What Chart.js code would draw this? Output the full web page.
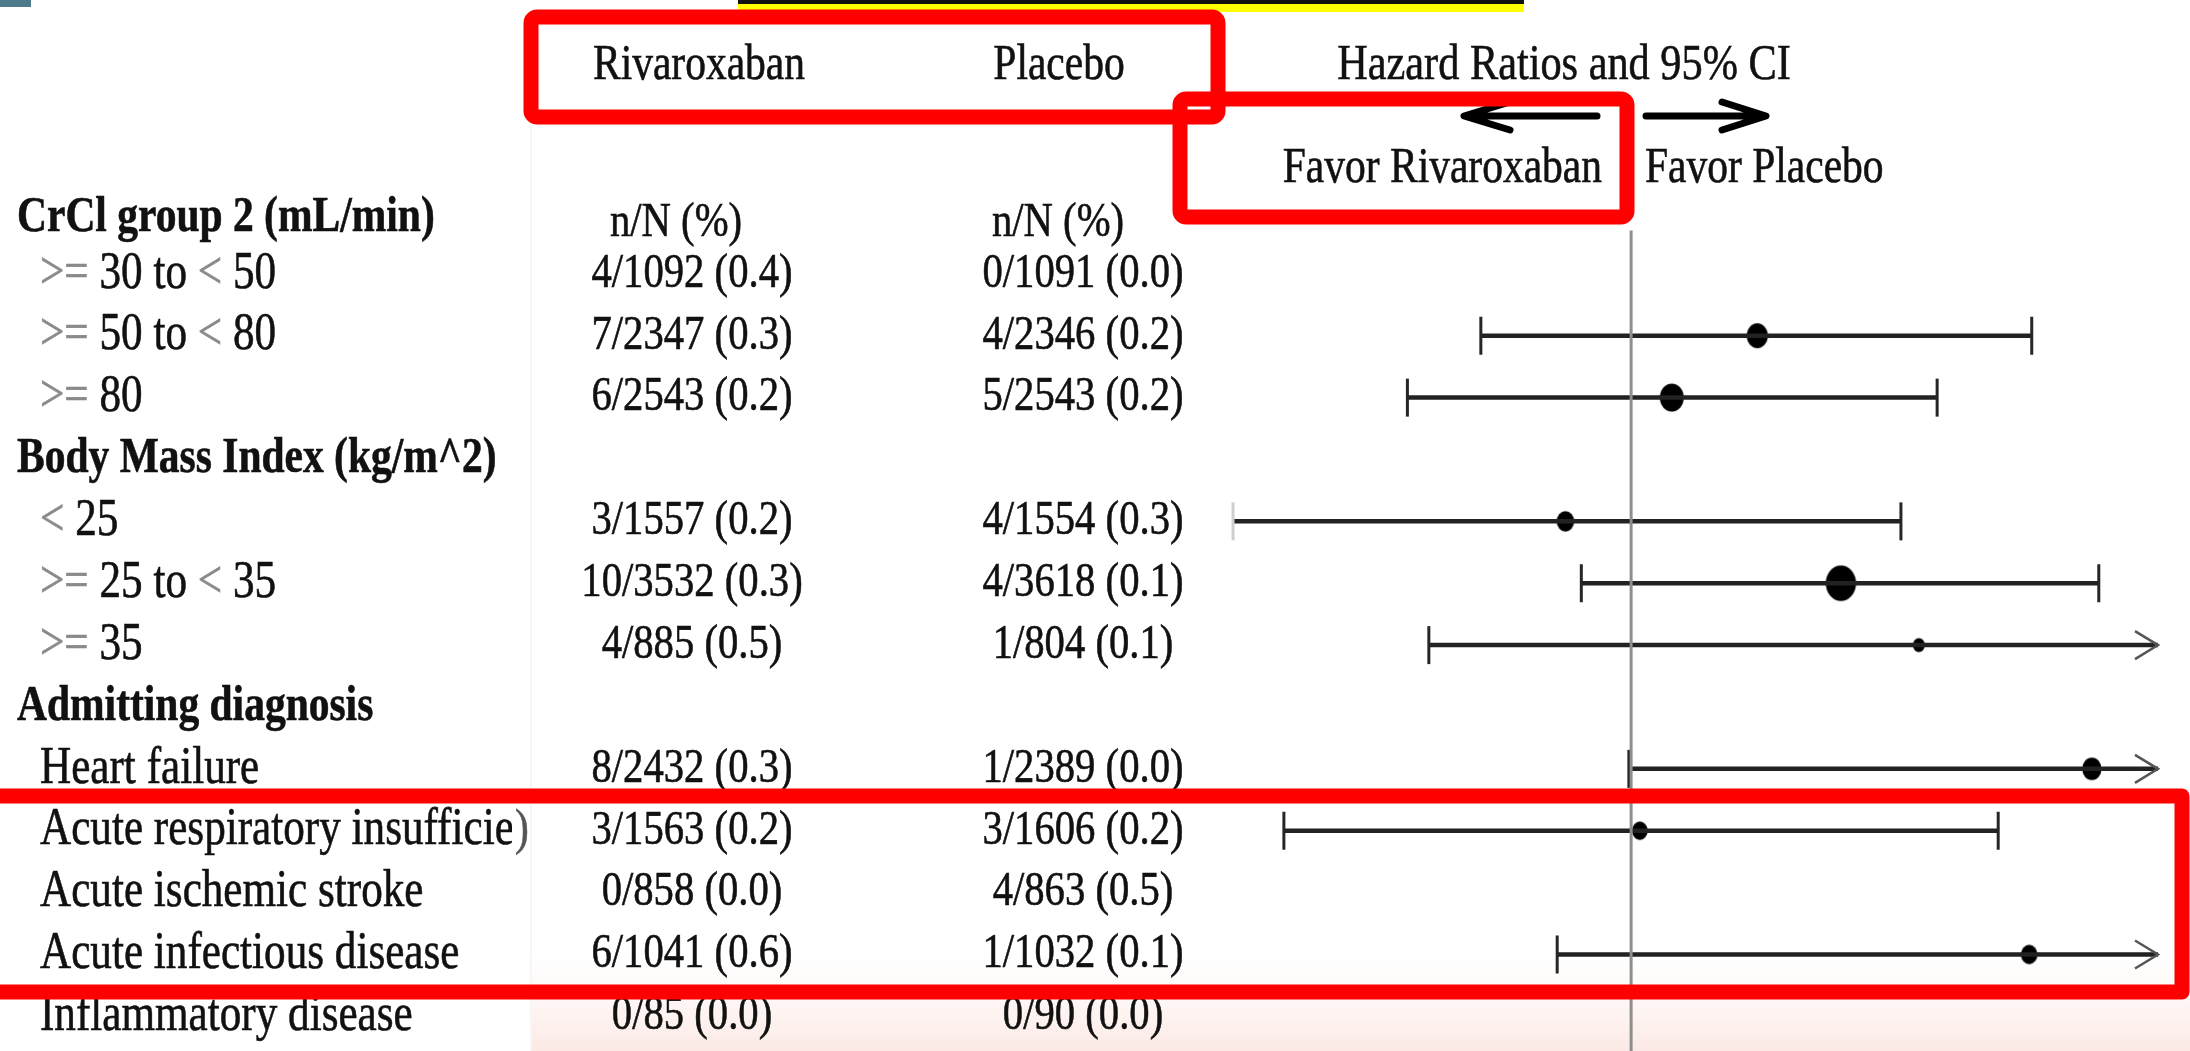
<!DOCTYPE html>
<html>
<head>
<meta charset="utf-8">
<title>Subgroup forest plot</title>
<script src="https://cdn.jsdelivr.net/npm/chart.js@4.4.1/dist/chart.umd.min.js"></script>
<style>
  html, body { margin: 0; padding: 0; background: #fff; }
  #wrap { width: 2190px; height: 1051px; }
</style>
</head>
<body>
<div id="wrap"><canvas id="forest" width="2190" height="1051"></canvas></div>
<script>
// ---- data ----
const rowLabels = [
  "CrCl group 2 (mL/min)", ">= 30 to < 50", ">= 50 to < 80", ">= 80",
  "Body Mass Index (kg/m^2)", "< 25", ">= 25 to < 35", ">= 35",
  "Admitting diagnosis", "Heart failure", "Acute respiratory insufficiency",
  "Acute ischemic stroke", "Acute infectious disease", "Inflammatory disease"
];
const groupRows = [0, 4, 8];
const rivaroxabanCounts = [
  "n/N (%)", "4/1092 (0.4)", "7/2347 (0.3)", "6/2543 (0.2)", "",
  "3/1557 (0.2)", "10/3532 (0.3)", "4/885 (0.5)", "",
  "8/2432 (0.3)", "3/1563 (0.2)", "0/858 (0.0)", "6/1041 (0.6)", "0/85 (0.0)"
];
const placeboCounts = [
  "n/N (%)", "0/1091 (0.0)", "4/2346 (0.2)", "5/2543 (0.2)", "",
  "4/1554 (0.3)", "4/3618 (0.1)", "1/804 (0.1)", "",
  "1/2389 (0.0)", "3/1606 (0.2)", "4/863 (0.5)", "1/1032 (0.1)", "0/90 (0.0)"
];
// hazard ratio, 95% CI (log scale); null = not estimable
const hazardRatio = [null, null, 1.76, 1.20, null, 0.745, 2.56, 3.63, null, 7.88, 1.04, null, 5.95, null];
const ciLower     = [null, null, 0.51, 0.367, null, 0.168, 0.80, 0.404, null, 0.99, 0.211, null, 0.718, null];
const ciUpper     = [null, null, 6.02, 3.94, null, 3.35, 8.13, 32.6, null, 62.7, 5.18, null, 49.3, null];
// marker size (weight) per row
const markerSize  = [0, 0, 11.5, 13, 0, 9.5, 16.5, 6.5, 0, 10.5, 8.5, 0, 9, 0];

const X_MIN = 0.165, X_MAX = 10.6;
const SQUEEZE = 0.83;
const SERIF = '"Liberation Serif", "Times New Roman", serif';

function makeDot(r) {
  const rx = r * 0.92, ry = r * 1.08;
  const c = document.createElement("canvas");
  c.width = Math.ceil(rx * 2 + 2);
  c.height = Math.ceil(ry * 2 + 2);
  const g = c.getContext("2d");
  g.fillStyle = "#000";
  g.beginPath();
  g.ellipse(c.width / 2, c.height / 2, rx, ry, 0, 0, Math.PI * 2);
  g.fill();
  return c;
}
const dots = markerSize.map((r) => (r > 0 ? makeDot(r) : "circle"));

const datasets = [];
// reference line at HR = 1
datasets.push({
  data: [{ x: 1, y: 0.3 }, { x: 1, y: 13.7 }],
  showLine: true, borderColor: "#8e8e8e", borderWidth: 3, pointRadius: 0, clip: false
});
// confidence intervals
hazardRatio.forEach((hr, i) => {
  if (hr == null) return;
  const hi = Math.min(ciUpper[i], X_MAX);
  const lowAtEdge = ciLower[i] <= X_MIN * 1.03;
  datasets.push({
    data: [{ x: ciLower[i], y: i }, { x: hi, y: i }],
    showLine: true, borderColor: "#222", borderWidth: 4.5,
    pointStyle: "line", pointRotation: 90,
    pointRadius: [19, ciUpper[i] > X_MAX ? 0 : 19],
    pointBorderWidth: 3,
    pointBorderColor: [lowAtEdge ? "#cfcfcf" : "#262626", "#262626"],
    clip: false
  });
});
// point estimates
datasets.push({
  data: hazardRatio.map((hr, i) => ({ x: hr, y: i })).filter((p) => p.x != null),
  pointStyle: (ctx) => dots[ctx.raw ? ctx.raw.y : 0],
  pointRadius: (ctx) => markerSize[ctx.raw ? ctx.raw.y : 0],
  backgroundColor: "#000", borderColor: "#000", clip: false
});

function txt(ctx, s, x, y, size, opts = {}) {
  ctx.save();
  ctx.font = (opts.bold ? "bold " : "") + size + "px " + SERIF;
  ctx.fillStyle = opts.color || "#111";
  ctx.strokeStyle = opts.color || "#111";
  ctx.lineWidth = 0.6;
  ctx.textBaseline = "middle";
  ctx.textAlign = opts.align || "left";
  ctx.translate(x, y);
  ctx.scale(SQUEEZE, 1);
  ctx.fillText(s, 0, 0);
  ctx.strokeText(s, 0, 0);
  ctx.restore();
}
function labelParts(ctx, s, x, y, size) {
  // comparison operators come out lighter in the source
  ctx.save();
  ctx.font = size + "px " + SERIF;
  let cx = x;
  s.split(/(>=|<)/).forEach((part) => {
    if (!part) return;
    txt(ctx, part, cx, y, size, { color: /^(>=|<)$/.test(part) ? "#8a8a8a" : "#111" });
    cx += ctx.measureText(part).width * SQUEEZE;
  });
  ctx.restore();
}

const decor = {
  id: "decor",
  beforeDraw(chart) {
    const ctx = chart.ctx;
    ctx.save();
    ctx.fillStyle = "#fff";
    ctx.fillRect(0, 0, chart.width, chart.height);
    // slide remnants at the top edge
    ctx.fillStyle = "#4d7b8c";
    ctx.fillRect(0, 0, 31, 7);
    ctx.fillStyle = "#ffff00";
    ctx.fillRect(738, 0, 786, 12);
    ctx.fillStyle = "#111";
    ctx.fillRect(738, 0, 786, 4);
    // faint panel edge and pink shading at bottom
    ctx.fillStyle = "rgba(0,0,0,0.035)";
    ctx.fillRect(530, 125, 2, 926);
    const g = ctx.createLinearGradient(0, 955, 0, 1051);
    g.addColorStop(0, "rgba(252,236,232,0)");
    g.addColorStop(1, "rgba(250,226,220,0.75)");
    ctx.fillStyle = g;
    ctx.fillRect(532, 955, 1658, 96);
    ctx.restore();
  },
  afterDatasetsDraw(chart) {
    const ctx = chart.ctx;
    const xs = chart.scales.x, ys = chart.scales.y;
    // open arrowheads for truncated intervals
    ctx.save();
    ctx.strokeStyle = "#555";
    ctx.lineWidth = 2.5;
    hazardRatio.forEach((hr, i) => {
      if (hr == null || ciUpper[i] <= X_MAX) return;
      const px = xs.getPixelForValue(X_MAX), py = ys.getPixelForValue(i);
      ctx.beginPath();
      ctx.moveTo(px - 23, py - 14);
      ctx.lineTo(px, py);
      ctx.lineTo(px - 23, py + 14);
      ctx.stroke();
    });
    ctx.restore();

    // table text
    rowLabels.forEach((lab, i) => {
      let y = ys.getPixelForValue(i);
      if (i === 0) y += 6;
      if (groupRows.includes(i)) {
        txt(ctx, lab, 17, y, 50, { bold: true });
      } else if (lab === "Acute respiratory insufficiency") {
        ctx.save();
        ctx.beginPath();
        ctx.rect(0, y - 40, 512, 80);
        ctx.clip();
        txt(ctx, lab, 40, y, 52);
        ctx.restore();
        txt(ctx, ")", 515, y, 50, { color: "#555" });
      } else {
        labelParts(ctx, lab, 40, y, 52);
      }
      const yy = ys.getPixelForValue(i) + (i === 0 ? 11 : 0);
      if (i === 0) {
        txt(ctx, rivaroxabanCounts[i], 676, yy, 49, { align: "center" });
        txt(ctx, placeboCounts[i], 1058, yy, 49, { align: "center" });
      } else {
        txt(ctx, rivaroxabanCounts[i], 692, yy, 49, { align: "center" });
        txt(ctx, placeboCounts[i], 1083, yy, 49, { align: "center" });
      }
    });

    // column headers
    txt(ctx, "Rivaroxaban", 699, 66, 50, { align: "center" });
    txt(ctx, "Placebo", 1059, 66, 50, { align: "center" });
    txt(ctx, "Hazard Ratios and 95% CI", 1564, 66, 51, { align: "center" });
    txt(ctx, "Favor Rivaroxaban", 1602, 169, 50, { align: "right" });
    txt(ctx, "Favor Placebo", 1645, 169, 50);

    // direction arrows
    ctx.save();
    ctx.strokeStyle = "#000";
    ctx.lineWidth = 7;
    ctx.lineCap = "round";
    ctx.lineJoin = "round";
    ctx.beginPath();
    ctx.moveTo(1597, 116); ctx.lineTo(1466, 116);
    ctx.moveTo(1510, 102); ctx.lineTo(1464, 116); ctx.lineTo(1510, 130);
    ctx.moveTo(1646, 116); ctx.lineTo(1764, 116);
    ctx.moveTo(1722, 102); ctx.lineTo(1766, 116); ctx.lineTo(1722, 130);
    ctx.stroke();
    ctx.restore();

    // red annotation boxes
    ctx.save();
    ctx.strokeStyle = "#ff0000";
    ctx.lineWidth = 15;
    ctx.lineJoin = "round";
    ctx.beginPath();
    ctx.roundRect(531, 17, 687, 100, 6);
    ctx.stroke();
    ctx.beginPath();
    ctx.roundRect(1180, 99, 447, 118, 6);
    ctx.stroke();
    ctx.beginPath();
    ctx.rect(-30, 796, 2212, 196);
    ctx.stroke();
    ctx.restore();
  }
};

new Chart(document.getElementById("forest"), {
  type: "scatter",
  data: { datasets },
  plugins: [decor],
  options: {
    responsive: false,
    animation: false,
    events: [],
    layout: { autoPadding: false, padding: { left: 1229, right: 32, top: 237, bottom: 0 } },
    plugins: { legend: { display: false }, tooltip: { enabled: false } },
    scales: {
      x: { type: "logarithmic", min: X_MIN, max: X_MAX, display: false },
      y: { type: "linear", min: 0.404, max: 13.56, reverse: true, display: false }
    }
  }
});
</script>
</body>
</html>
